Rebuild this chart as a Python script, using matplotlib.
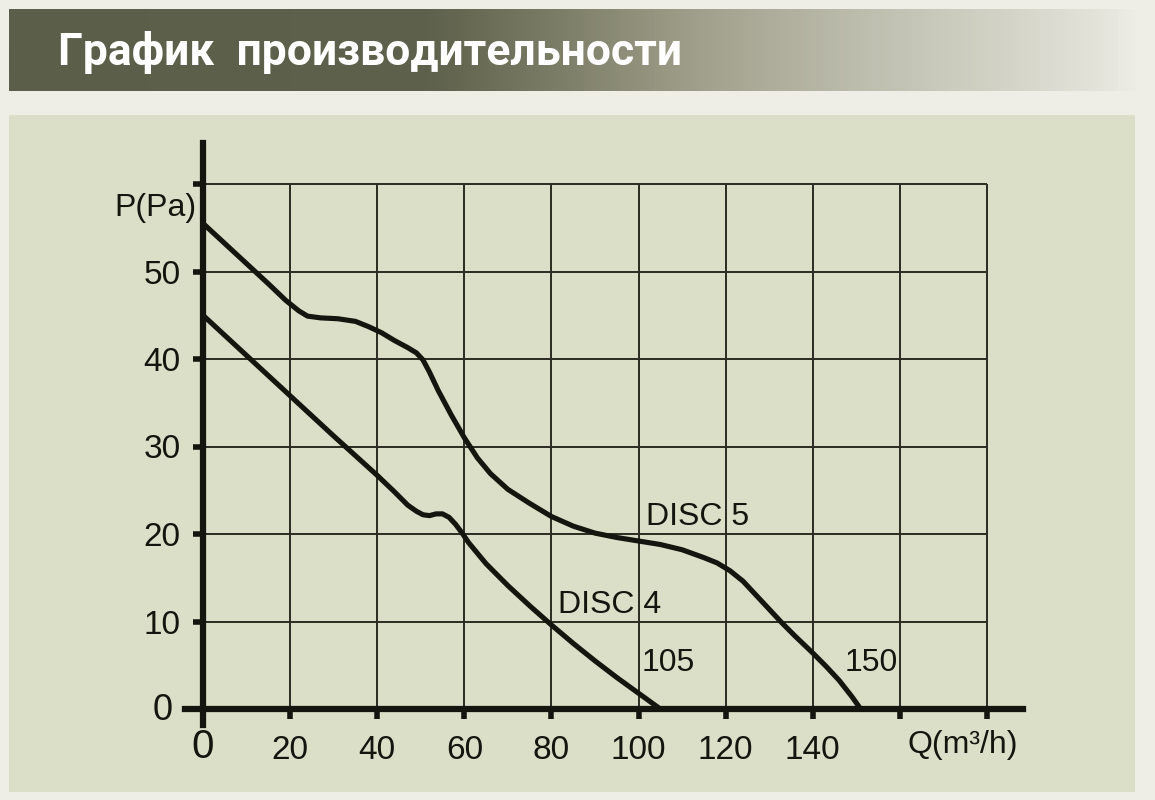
import matplotlib.pyplot as plt
import numpy as np
from matplotlib.colors import LinearSegmentedColormap
from matplotlib.patches import Rectangle

W, H = 1155, 800

# DISC 5 curve
q_disc5 = [0, 5, 10, 15, 19, 22, 24, 27, 31, 35, 38, 41, 44, 47, 49, 50.5, 52,
           54, 57, 60, 63, 66, 70, 75, 80, 85, 90, 95, 100, 105, 110, 115, 118,
           121, 124, 127, 130, 133, 136, 140, 143, 146, 149, 151]
p_disc5 = [55.5, 53.2, 50.9, 48.6, 46.7, 45.5, 44.9, 44.7, 44.6, 44.3, 43.7, 43.0,
           42.1, 41.3, 40.7, 39.9, 38.5, 36.4, 33.6, 31.0, 28.7, 26.9, 25.1, 23.5,
           22.0, 20.9, 20.1, 19.6, 19.2, 18.8, 18.2, 17.3, 16.7, 15.8, 14.6, 13.0,
           11.4, 9.8, 8.3, 6.4, 4.9, 3.3, 1.4, 0.0]

# DISC 4 curve
q_disc4 = [0, 10, 20, 30, 40, 44, 47, 49, 50.5, 52, 53.5, 55, 56.5, 58, 59.5, 61,
           65, 70, 75, 80, 85, 90, 95, 100, 105]
p_disc4 = [45.0, 40.4, 35.8, 31.2, 26.7, 24.8, 23.3, 22.6, 22.2, 22.1, 22.3, 22.3,
           21.9, 21.1, 20.1, 19.0, 16.6, 14.1, 11.8, 9.6, 7.5, 5.5, 3.6, 1.8, 0.0]

x_ticks = list(range(0, 181, 20))
x_labels = ["", "20", "40", "60", "80", "100", "120", "140", "", ""]
y_ticks = list(range(0, 61, 10))
y_labels = ["", "10", "20", "30", "40", "50", ""]

TITLE = "График  производительности"
INK = "#15150f"
GRID = "#2b2b22"
FONT = ["Liberation Sans", "DejaVu Sans"]

fig = plt.figure(figsize=(W / 100, H / 100), dpi=100, facecolor="#eeeee6")

# chart panel
fig.patches.append(Rectangle((9 / W, 1 - 792 / H), (1135 - 9) / W, (792 - 115) / H,
                             transform=fig.transFigure, facecolor="#dcdfc8",
                             edgecolor="none", zorder=-5))

# header band with gradient
hax = fig.add_axes([9 / W, 1 - 91 / H, (1140 - 9) / W, (91 - 9) / H])
stops_px = [9, 430, 570, 710, 860, 1000, 1100, 1140]
stops_col = ["#5b5e48", "#5e614b", "#7f806a", "#a3a28e", "#bdbdae", "#d2d2c6",
             "#e3e3da", "#eeeee6"]
pos = [(p - 9) / (1140 - 9) for p in stops_px]
cmap = LinearSegmentedColormap.from_list("hdr", list(zip(pos, stops_col)))
hax.imshow(np.linspace(0, 1, 1024)[None, :], aspect="auto", cmap=cmap,
           extent=[0, 1, 0, 1])
hax.set_axis_off()
fig.text(58 / W, 1 - 65 / H, TITLE, color="white", fontsize=32, fontweight="bold",
         family=["Roboto", "DejaVu Sans"], va="baseline", ha="left")

# main axes: data 0->px 203, 180->px 987 ; 0->py 709, 60->py 184
sx = (987 - 203) / 180
sy = (709 - 184) / 60
x0, x1 = -10, 200
y0, y1 = -5, 68
left = (203 + x0 * sx) / W
bottom = (H - (709 - y0 * sy)) / H
ax = fig.add_axes([left, bottom, (x1 - x0) * sx / W, (y1 - y0) * sy / H])
ax.set_xlim(x0, x1)
ax.set_ylim(y0, y1)
ax.patch.set_alpha(0)

for side in ("top", "right"):
    ax.spines[side].set_visible(False)
ax.spines["left"].set_position(("data", 0))
ax.spines["bottom"].set_position(("data", 0))
ax.spines["left"].set_bounds(-1.8, 64.7)
ax.spines["bottom"].set_bounds(-4.2, 188.3)
for side in ("left", "bottom"):
    ax.spines[side].set_linewidth(4.5)
    ax.spines[side].set_color(INK)
    ax.spines[side].set_zorder(5)

ax.vlines(x_ticks[1:], 0, 60, color=GRID, lw=1.4, zorder=1)
ax.hlines(y_ticks[1:], 0, 180, color=GRID, lw=1.4, zorder=1)

ax.set_xticks(x_ticks)
ax.set_xticklabels(x_labels)
ax.set_yticks(y_ticks)
ax.set_yticklabels(y_labels)
ax.tick_params(axis="both", direction="out", length=7, width=4, color=INK,
               labelcolor=INK, labelsize=24)
ax.tick_params(axis="x", pad=12)
ax.tick_params(axis="y", pad=9)
for lab in ax.get_xticklabels() + ax.get_yticklabels():
    lab.set_family(FONT)

ax.plot(q_disc5, p_disc5, color=INK, lw=3.7, solid_capstyle="butt",
        solid_joinstyle="round", zorder=4)
ax.plot(q_disc4, p_disc4, color=INK, lw=3.7, solid_capstyle="butt",
        solid_joinstyle="round", zorder=4)

txt = dict(color=INK, family=FONT, fontsize=23)
ax.annotate("0", (0, 0), xytext=(-30, -2), textcoords="offset pixels",
            ha="right", va="center", fontsize=26, color=INK, family=FONT)
ax.annotate("0", (0, 0), xytext=(0, -19), textcoords="offset pixels",
            ha="center", va="top", fontsize=29, color=INK, family=FONT)
ax.text(-1.4, 57.3, "P(Pa)", ha="right", va="center", **txt)
ax.text(161.8, -4.1, "Q(m³/h)", ha="left", va="center", **txt)
ax.text(101.6, 21.9, "DISC 5", ha="left", va="center", **txt)
ax.text(81.5, 11.9, "DISC 4", ha="left", va="center", **txt)
ax.text(100.8, 5.3, "105", ha="left", va="center", **txt)
ax.text(147.4, 5.3, "150", ha="left", va="center", **txt)

fig.savefig("out.png", dpi=100, facecolor=fig.get_facecolor())
